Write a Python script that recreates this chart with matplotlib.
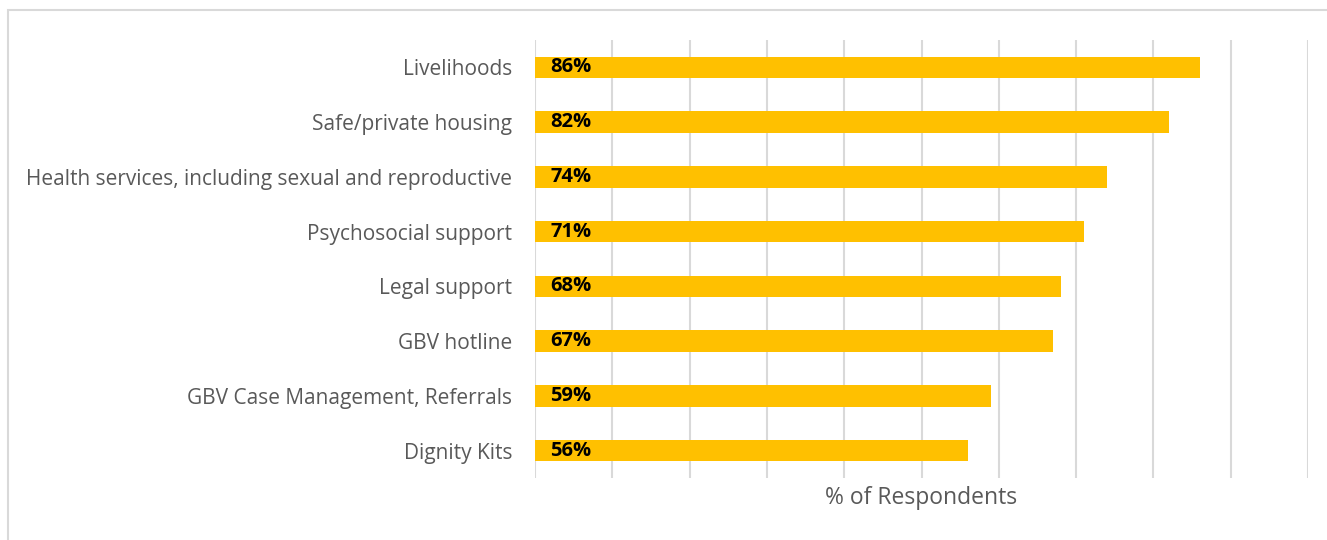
import matplotlib.pyplot as plt
from matplotlib.patches import Rectangle

categories = ['Livelihoods', 'Safe/private housing',
              'Health services, including sexual and reproductive',
              'Psychosocial support', 'Legal support', 'GBV hotline',
              'GBV Case Management, Referrals', 'Dignity Kits']
values = [86, 82, 74, 71, 68, 67, 59, 56]

W, H = 1327, 540
fig = plt.figure(figsize=(W / 100, H / 100), dpi=100)
ax = fig.add_axes([535 / W, 1 - 478 / H, (1308 - 535) / W, (478 - 40) / H])

# outer chart frame (open to the right and bottom)
fig.patches.append(Rectangle((8 / W, -0.1), 1.2, 1 - 10 / H + 0.1,
                             transform=fig.transFigure, fill=False,
                             edgecolor='#d9d9d9', linewidth=1.5))

ypos = list(range(len(categories)))
ax.barh(ypos, values, height=0.39, color='#ffc000', zorder=2)
for y, v in zip(ypos, values):
    ax.text(2, y, f'{v}%', va='center', ha='left', fontsize=14.5,
            fontweight='bold', color='black', family='Open Sans', zorder=3)

ax.set_xlim(0, 100)
ax.set_ylim(len(categories) - 0.5, -0.5)
ax.set_xticks(range(0, 101, 10))
ax.xaxis.grid(True, color='#d9d9d9', linewidth=1.5, zorder=0)
ax.tick_params(axis='x', length=0, labelbottom=False)
ax.tick_params(axis='y', length=0, pad=16.5)
ax.set_yticks(ypos)
ax.set_yticklabels(categories, fontsize=15, color='#595959', family='Open Sans')
for s in ax.spines.values():
    s.set_visible(False)

fig.text((535 + 1308) / 2 / W, 1 - 498 / H, '% of Respondents', ha='center',
         va='center', fontsize=16.5, color='#595959', family='Open Sans')

fig.savefig('out.png', dpi=100)
